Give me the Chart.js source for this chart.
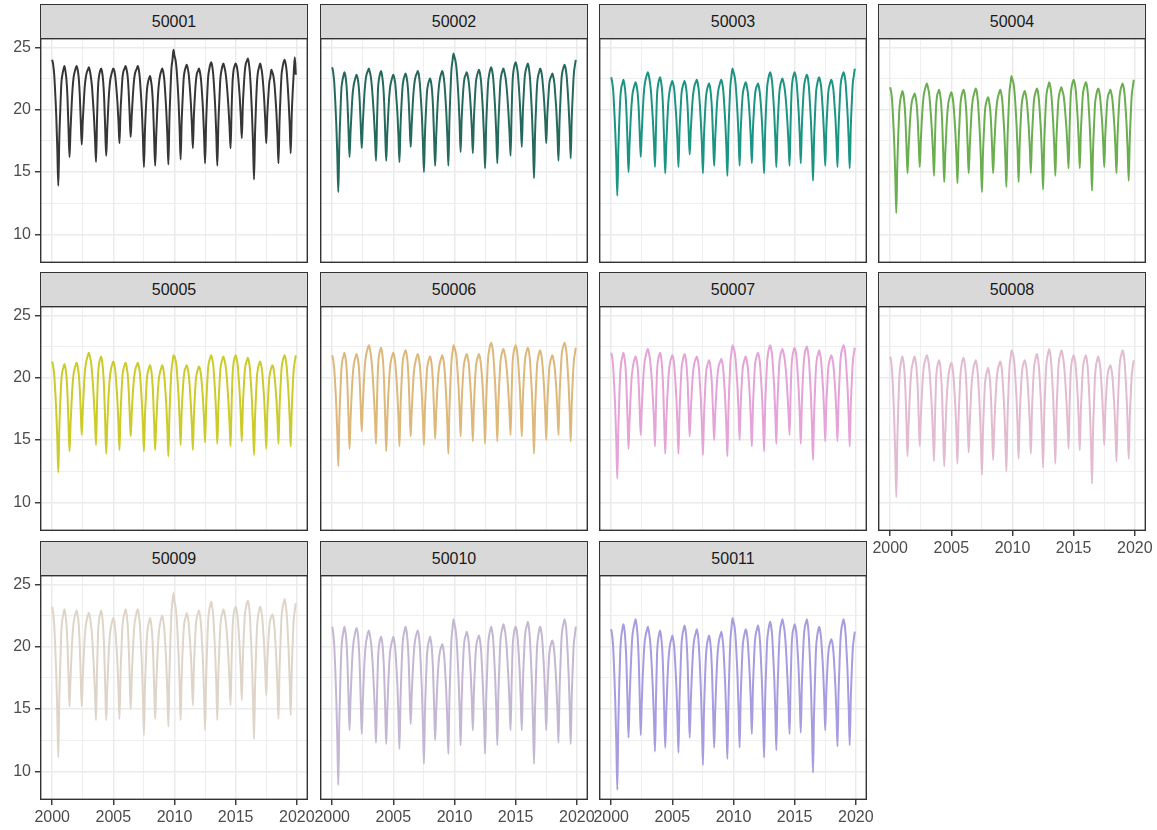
<!DOCTYPE html>
<html>
<head>
<meta charset="utf-8">
<title>Monthly series by station, 2000-2019</title>
<script src="https://cdn.jsdelivr.net/npm/chart.js@4.4.1/dist/chart.umd.min.js"></script>
<style>
  html, body { margin: 0; padding: 0; background: #ffffff; }
  body { position: relative; width: 1157px; height: 830px; overflow: hidden;
         font-family: "Liberation Sans", Arial, Helvetica, sans-serif; }
  .strip { position: absolute; box-sizing: border-box; background: #d9d9d9;
           border: 1px solid #333333; color: #1a1a1a; font-size: 16px;
           display: flex; align-items: center; justify-content: center; }
  canvas { position: absolute; }
</style>
</head>
<body>
<script>
// ---- categories ----
const YEARS = [2000, 2001, 2002, 2003, 2004, 2005, 2006, 2007, 2008, 2009,
               2010, 2011, 2012, 2013, 2014, 2015, 2016, 2017, 2018, 2019];
const MONTHS = ['Jan', 'Feb', 'Mar', 'Apr', 'May', 'Jun', 'Jul', 'Aug', 'Sep', 'Oct', 'Nov', 'Dec'];
const STATIONS = ['50001', '50002', '50003', '50004', '50005', '50006',
                  '50007', '50008', '50009', '50010', '50011'];

// ---- tick labels ----
const X_TICKS = [2000, 2005, 2010, 2015, 2020];
const X_MINOR = [2002.5, 2007.5, 2012.5, 2017.5];
const Y_TICKS = [10, 15, 20, 25];
const Y_MINOR = [12.5, 17.5, 22.5];

// ---- monthly values, one row per year (Jan..Dec) ----
const s50001 = [
  24.0,23.6,22.8,21.3,19.5,16.9,13.9,17.7,20.1,22.1,22.8,23.2,
  23.5,23.1,22.4,21.0,18.5,16.2,18.4,20.2,21.7,22.6,23.0,23.3,
  23.5,23.2,22.6,21.3,19.2,17.2,19.1,20.6,21.9,22.6,23.0,23.2,
  23.4,23.1,22.6,21.9,20.7,19.4,17.7,15.8,19.2,21.8,22.7,23.1,
  23.3,23.0,22.3,20.9,18.5,16.3,18.4,20.2,21.6,22.4,22.8,23.1,
  23.3,23.1,22.6,21.7,20.6,19.1,17.3,19.8,21.3,22.6,23.1,23.3,
  23.5,23.2,22.7,21.5,19.6,17.8,19.5,20.9,22.1,22.8,23.1,23.3,
  23.5,23.2,22.5,21.3,19.9,17.8,15.4,18.3,20.2,21.6,22.2,22.5,
  22.7,22.3,21.6,20.2,17.8,15.5,17.8,19.8,21.4,22.3,22.8,23.1,
  23.3,23.0,22.4,21.2,19.8,17.9,15.6,19.2,21.5,23.3,24.0,24.8,
  24.3,24.0,23.3,22.1,20.6,18.5,16.0,19.0,20.9,22.5,23.1,23.4,
  23.6,23.3,22.8,21.8,20.6,18.9,16.9,19.5,21.1,22.3,22.9,23.1,
  23.3,23.0,22.4,21.3,19.9,18.0,15.7,18.9,21.0,22.6,23.2,23.6,
  23.8,23.5,22.8,21.6,20.1,18.0,15.5,18.8,20.8,22.5,23.1,23.5,
  23.7,23.4,23.0,22.3,21.3,20.1,18.6,16.9,20.0,22.3,23.2,23.5,
  23.7,23.5,23.0,22.1,21.0,19.5,17.7,20.3,21.9,23.1,23.7,23.9,
  24.1,23.7,22.9,21.5,19.7,17.3,14.4,18.1,20.5,22.3,23.1,23.4,
  23.7,23.4,22.9,22.0,20.8,19.2,17.3,19.6,21.0,22.2,22.6,23.2,
  23.0,22.7,22.1,21.0,19.7,17.9,15.7,19.0,21.1,22.8,23.4,23.8,
  24.0,23.7,23.1,22.0,20.6,18.8,16.5,19.6,21.5,23.0,24.2,22.8
];
const s50002 = [
  23.4,23.0,22.2,20.7,18.9,16.4,13.4,17.2,19.6,21.6,22.3,22.7,
  23.0,22.7,22.0,20.6,18.4,16.2,18.2,19.8,21.2,21.9,22.3,22.6,
  22.8,22.5,21.9,20.7,18.8,16.9,18.8,20.4,21.7,22.5,22.9,23.1,
  23.3,23.0,22.6,21.8,20.7,19.4,17.8,15.9,19.1,21.7,22.5,22.9,
  23.1,22.7,22.0,20.6,18.2,15.9,18.0,19.7,21.1,21.9,22.3,22.6,
  22.8,22.5,22.0,20.9,19.7,17.9,15.8,18.6,20.4,21.8,22.4,22.7,
  22.9,22.6,22.0,20.8,18.9,17.0,18.8,20.4,21.6,22.3,22.7,22.9,
  23.1,22.8,22.1,20.9,19.5,17.4,15.0,18.0,19.9,21.4,22.0,22.3,
  22.5,22.2,21.5,20.1,17.7,15.5,17.8,19.7,21.2,22.1,22.6,22.9,
  23.1,22.8,22.2,21.1,19.7,17.8,15.5,19.1,21.4,23.2,23.9,24.5,
  24.2,23.9,23.3,22.2,20.8,18.9,16.6,19.2,20.8,22.0,22.6,22.8,
  23.0,22.7,22.2,21.3,20.1,18.5,16.5,19.2,20.9,22.2,22.7,23.0,
  23.2,22.9,22.3,21.1,19.7,17.7,15.3,18.5,20.6,22.2,22.8,23.2,
  23.4,23.1,22.5,21.3,19.9,18.0,15.7,18.7,20.6,22.2,22.8,23.1,
  23.3,23.0,22.6,21.9,20.9,19.6,18.1,16.3,19.7,22.3,23.2,23.6,
  23.8,23.5,23.0,22.0,20.7,19.0,17.0,19.7,21.4,22.7,23.2,23.5,
  23.7,23.3,22.6,21.2,19.6,17.3,14.5,18.0,20.2,22.0,22.7,23.0,
  23.3,23.1,22.6,21.7,20.6,19.1,17.3,19.5,20.9,22.1,22.5,22.7,
  22.9,22.6,22.1,21.0,19.8,18.0,15.9,19.0,20.9,22.5,23.1,23.4,
  23.6,23.3,22.7,21.6,20.2,18.4,16.1,19.3,21.2,22.8,23.5,24.0
];
const s50003 = [
  22.6,22.2,21.5,20.0,18.3,16.0,13.1,16.8,19.2,21.0,21.8,22.1,
  22.4,22.0,21.3,19.8,17.4,15.0,17.2,19.0,20.4,21.3,21.7,22.0,
  22.2,21.9,21.3,20.1,18.1,16.2,18.2,19.9,21.3,22.1,22.5,22.8,
  23.0,22.7,22.2,21.5,20.3,19.0,17.3,15.4,18.6,21.2,22.0,22.4,
  22.6,22.2,21.5,19.9,17.4,14.9,17.1,19.0,20.5,21.3,21.8,22.1,
  22.3,22.0,21.5,20.4,19.2,17.5,15.4,18.2,19.9,21.3,21.8,22.1,
  22.3,22.0,21.4,20.2,18.3,16.4,18.2,19.7,20.9,21.6,22.0,22.2,
  22.4,22.1,21.5,20.4,19.0,17.2,14.9,17.8,19.6,21.0,21.6,21.9,
  22.1,21.8,21.1,19.8,17.6,15.5,17.6,19.3,20.7,21.5,21.9,22.2,
  22.4,22.1,21.5,20.3,18.9,17.0,14.7,18.1,20.3,22.0,22.7,23.3,
  23.0,22.7,22.1,21.0,19.6,17.8,15.5,18.2,19.9,21.2,21.7,22.0,
  22.2,21.9,21.4,20.5,19.3,17.7,15.7,18.3,19.9,21.1,21.7,21.9,
  22.1,21.8,21.2,20.2,18.9,17.1,14.9,18.1,20.2,21.8,22.4,22.8,
  23.0,22.7,22.1,21.0,19.6,17.7,15.4,18.2,20.0,21.4,22.0,22.3,
  22.5,22.2,21.8,21.1,20.1,18.8,17.3,15.5,18.9,21.5,22.4,22.8,
  23.0,22.7,22.1,21.0,19.7,17.9,15.7,18.5,20.3,21.7,22.3,22.6,
  22.8,22.5,21.8,20.5,19.0,16.9,14.3,17.6,19.7,21.4,22.0,22.4,
  22.6,22.3,21.8,20.7,19.4,17.6,15.5,18.3,20.0,21.4,21.9,22.2,
  22.4,22.1,21.6,20.5,19.3,17.5,15.4,18.4,20.3,21.9,22.5,22.8,
  23.0,22.7,22.1,20.9,19.5,17.6,15.3,18.5,20.5,22.1,22.7,23.3
];
const s50004 = [
  21.8,21.4,20.6,19.1,17.3,14.7,11.7,15.6,18.1,20.0,20.8,21.2,
  21.5,21.2,20.5,19.2,17.0,14.9,16.8,18.4,19.7,20.5,20.9,21.1,
  21.3,21.0,20.4,19.2,17.3,15.4,17.4,19.1,20.4,21.2,21.6,21.9,
  22.1,21.8,21.4,20.6,19.5,18.2,16.6,14.7,17.8,20.2,21.1,21.4,
  21.6,21.2,20.5,19.0,16.6,14.2,16.4,18.2,19.6,20.5,20.9,21.2,
  21.4,21.1,20.5,19.4,18.1,16.3,14.1,17.1,19.0,20.5,21.1,21.4,
  21.6,21.3,20.6,19.3,17.0,14.9,16.9,18.6,20.0,20.8,21.2,21.5,
  21.7,21.4,20.7,19.5,18.0,15.9,13.4,16.4,18.3,19.9,20.5,20.8,
  21.0,20.7,20.1,18.9,16.9,14.9,16.9,18.6,19.9,20.7,21.1,21.4,
  21.6,21.3,20.7,19.5,18.1,16.1,13.8,17.4,19.6,21.4,22.1,22.7,
  22.4,22.1,21.4,20.2,18.7,16.7,14.2,17.1,19.0,20.4,21.0,21.3,
  21.5,21.2,20.7,19.7,18.5,16.9,14.9,17.6,19.3,20.7,21.2,21.5,
  21.7,21.4,20.7,19.5,18.1,16.0,13.6,17.0,19.2,20.9,21.6,21.9,
  22.2,21.9,21.3,20.2,18.8,17.0,14.7,17.5,19.3,20.7,21.3,21.6,
  21.8,21.5,21.2,20.5,19.5,18.4,16.9,15.3,18.5,21.0,21.8,22.2,
  22.4,22.1,21.6,20.5,19.2,17.4,15.3,18.1,19.8,21.2,21.7,22.0,
  22.2,21.9,21.2,19.9,18.3,16.1,13.5,16.8,18.8,20.5,21.1,21.5,
  21.7,21.5,20.9,20.0,18.9,17.3,15.4,17.9,19.4,20.7,21.2,21.4,
  21.6,21.3,20.8,19.8,18.6,16.9,14.9,17.8,19.6,21.0,21.6,21.9,
  22.1,21.8,21.2,20.0,18.6,16.6,14.3,17.5,19.6,21.2,21.8,22.4
];
const s50005 = [
  21.3,20.9,20.2,18.9,17.3,15.1,12.4,15.9,18.1,19.8,20.5,20.8,
  21.1,20.8,20.1,18.7,16.3,14.1,16.2,18.0,19.4,20.3,20.7,21.0,
  21.2,20.9,20.3,19.2,17.3,15.4,17.4,19.0,20.4,21.1,21.5,21.8,
  22.0,21.7,21.3,20.5,19.4,18.1,16.5,14.6,17.8,20.3,21.1,21.5,
  21.7,21.3,20.5,19.0,16.4,13.9,16.1,18.0,19.5,20.3,20.8,21.1,
  21.3,21.0,20.5,19.4,18.1,16.3,14.2,17.0,18.8,20.2,20.7,21.0,
  21.2,20.9,20.3,19.1,17.2,15.3,17.1,18.6,19.7,20.4,20.8,21.0,
  21.2,20.9,20.4,19.3,18.0,16.2,14.1,16.9,18.6,20.0,20.5,20.8,
  21.0,20.7,20.0,18.6,16.4,14.2,16.2,17.9,19.3,20.1,20.5,20.8,
  21.0,20.7,20.1,19.0,17.7,15.9,13.7,16.9,19.0,20.6,21.2,21.8,
  21.7,21.4,20.9,19.8,18.5,16.7,14.6,17.2,18.8,20.0,20.6,20.8,
  21.0,20.7,20.2,19.2,17.9,16.2,14.2,16.9,18.6,19.9,20.4,20.7,
  20.9,20.7,20.2,19.3,18.2,16.6,14.8,17.6,19.4,20.8,21.3,21.6,
  21.8,21.5,21.0,19.9,18.6,16.8,14.7,17.5,19.3,20.7,21.2,21.5,
  21.7,21.4,21.0,20.3,19.2,17.9,16.3,14.5,17.8,20.3,21.2,21.6,
  21.8,21.5,21.0,19.9,18.7,17.0,14.9,17.6,19.3,20.6,21.1,21.4,
  21.6,21.3,20.7,19.5,18.1,16.1,13.8,16.8,18.7,20.2,20.8,21.1,
  21.3,21.0,20.5,19.4,18.2,16.4,14.3,17.0,18.7,20.0,20.5,20.8,
  21.0,20.8,20.2,19.3,18.2,16.6,14.7,17.5,19.3,20.7,21.3,21.6,
  21.8,21.5,20.9,19.8,18.5,16.7,14.5,17.4,19.3,20.7,21.3,21.8
];
const s50006 = [
  21.8,21.4,20.7,19.4,17.8,15.6,12.9,16.5,18.8,20.6,21.4,21.7,
  22.0,21.6,20.9,19.3,16.8,14.3,16.6,18.5,20.0,20.9,21.4,21.7,
  21.9,21.6,21.0,19.7,17.7,15.7,17.8,19.5,20.9,21.7,22.1,22.4,
  22.6,22.3,21.8,21.0,19.8,18.4,16.7,14.7,18.2,20.9,21.8,22.2,
  22.4,22.0,21.2,19.5,16.8,14.1,16.5,18.5,20.0,21.0,21.5,21.8,
  22.0,21.7,21.1,20.0,18.6,16.8,14.5,17.6,19.5,21.1,21.7,22.0,
  22.2,21.9,21.2,19.8,17.5,15.3,17.3,18.9,20.3,21.0,21.4,21.7,
  21.9,21.6,21.0,19.9,18.6,16.8,14.6,17.4,19.2,20.6,21.2,21.5,
  21.7,21.4,20.7,19.4,17.2,15.1,17.1,18.8,20.1,20.9,21.3,21.6,
  21.8,21.5,20.9,19.7,18.3,16.3,13.9,17.4,19.6,21.3,22.0,22.6,
  22.4,22.1,21.6,20.5,19.2,17.4,15.3,17.9,19.6,20.9,21.4,21.7,
  21.9,21.6,21.1,20.0,18.8,17.0,14.9,17.7,19.5,20.9,21.4,21.7,
  21.9,21.6,21.0,20.0,18.7,16.9,14.7,17.9,20.0,21.6,22.2,22.6,
  22.8,22.5,21.9,20.7,19.3,17.3,14.9,17.9,19.7,21.2,21.8,22.1,
  22.3,22.0,21.6,20.9,19.9,18.6,17.1,15.4,18.6,21.2,22.0,22.4,
  22.6,22.3,21.7,20.6,19.3,17.5,15.3,18.1,19.9,21.3,21.9,22.2,
  22.4,22.1,21.4,20.1,18.6,16.5,13.9,17.2,19.3,21.0,21.6,22.0,
  22.2,21.9,21.3,20.3,19.0,17.2,15.0,17.7,19.4,20.8,21.3,21.6,
  21.8,21.5,21.0,20.1,18.9,17.3,15.4,18.4,20.2,21.7,22.3,22.6,
  22.8,22.5,21.9,20.7,19.3,17.3,14.9,17.9,19.8,21.3,21.9,22.4
];
const s50007 = [
  22.0,21.6,20.8,19.3,17.5,14.9,11.9,15.9,18.5,20.5,21.3,21.7,
  22.0,21.6,20.9,19.3,16.8,14.3,16.5,18.4,19.9,20.7,21.2,21.5,
  21.7,21.4,20.8,19.5,17.4,15.4,17.5,19.2,20.6,21.4,21.8,22.1,
  22.3,22.0,21.5,20.7,19.6,18.2,16.5,14.5,17.9,20.5,21.4,21.8,
  22.0,21.6,20.8,19.2,16.5,13.9,16.3,18.3,19.8,20.8,21.3,21.6,
  21.8,21.5,20.9,19.7,18.3,16.3,13.9,17.1,19.1,20.7,21.3,21.7,
  21.9,21.6,20.9,19.6,17.4,15.3,17.2,18.8,20.1,20.9,21.3,21.5,
  21.7,21.4,20.8,19.6,18.2,16.2,13.8,16.8,18.7,20.3,20.9,21.2,
  21.4,21.1,20.4,19.2,17.1,15.0,17.0,18.6,19.9,20.7,21.1,21.3,
  21.5,21.2,20.6,19.4,18.0,16.0,13.7,17.3,19.5,21.3,22.0,22.6,
  22.4,22.1,21.5,20.4,19.1,17.2,15.0,17.7,19.4,20.7,21.2,21.5,
  21.7,21.4,20.8,19.8,18.5,16.7,14.5,17.5,19.4,20.9,21.5,21.8,
  22.0,21.7,21.1,19.9,18.5,16.5,14.1,17.5,19.6,21.3,22.0,22.4,
  22.6,22.3,21.7,20.5,19.1,17.1,14.7,17.7,19.6,21.2,21.8,22.1,
  22.3,22.0,21.6,20.9,19.9,18.6,17.1,15.4,18.6,21.0,21.8,22.2,
  22.4,22.1,21.5,20.3,18.9,17.0,14.7,17.8,19.8,21.3,22.0,22.3,
  22.5,22.1,21.4,20.0,18.4,16.1,13.4,16.9,19.1,20.9,21.6,21.9,
  22.2,21.9,21.3,20.2,18.9,17.1,14.9,17.7,19.4,20.8,21.3,21.6,
  21.8,21.5,21.0,19.9,18.7,17.0,14.9,18.0,19.9,21.5,22.1,22.4,
  22.6,22.3,21.6,20.4,19.0,16.9,14.5,17.7,19.6,21.2,21.9,22.4
];
const s50008 = [
  21.7,21.3,20.3,18.7,16.6,13.8,10.4,14.9,17.8,20.0,20.9,21.4,
  21.7,21.3,20.5,18.9,16.3,13.7,16.1,18.1,19.7,20.7,21.1,21.5,
  21.7,21.3,20.6,19.2,16.8,14.5,16.7,18.5,20.0,20.9,21.3,21.6,
  21.8,21.5,21.0,20.1,18.8,17.3,15.4,13.3,17.0,19.8,20.8,21.2,
  21.4,21.0,20.1,18.4,15.6,12.9,15.4,17.5,19.1,20.1,20.6,21.0,
  21.2,20.9,20.2,19.0,17.6,15.5,13.1,16.5,18.6,20.3,21.0,21.4,
  21.6,21.2,20.5,18.9,16.4,14.0,16.2,18.1,19.6,20.4,20.9,21.2,
  21.4,21.0,20.3,18.9,17.3,15.0,12.2,15.6,17.8,19.5,20.2,20.5,
  20.8,20.4,19.7,18.2,15.8,13.4,15.8,17.8,19.3,20.3,20.8,21.1,
  21.3,21.0,20.2,18.9,17.3,15.1,12.5,16.4,18.8,20.8,21.5,22.2,
  22.0,21.7,21.0,19.7,18.2,16.1,13.5,16.7,18.6,20.2,20.9,21.2,
  21.4,21.1,20.5,19.4,18.0,16.2,13.9,17.1,19.1,20.7,21.3,21.7,
  21.9,21.5,20.8,19.4,17.8,15.5,12.8,16.6,19.0,20.9,21.6,22.0,
  22.3,21.9,21.2,19.8,18.2,15.9,13.1,16.7,19.0,20.8,21.6,21.9,
  22.2,21.9,21.4,20.6,19.4,18.0,16.3,14.3,17.7,20.3,21.2,21.6,
  21.8,21.5,20.9,19.8,18.4,16.5,14.2,17.2,19.1,20.7,21.3,21.6,
  21.8,21.4,20.6,19.0,17.2,14.6,11.5,15.6,18.1,20.2,21.0,21.4,
  21.7,21.4,20.9,19.8,18.5,16.7,14.6,17.2,18.8,20.0,20.6,20.8,
  21.0,20.7,20.1,18.9,17.5,15.6,13.3,16.9,19.1,20.9,21.6,21.9,
  22.2,21.9,21.2,19.9,18.3,16.1,13.5,16.7,18.6,20.2,20.9,21.4
];
const s50009 = [
  23.2,22.7,21.8,19.9,17.8,14.7,11.1,15.9,18.8,21.2,22.2,22.6,
  23.0,22.6,21.8,20.3,17.7,15.2,17.5,19.4,21.0,21.9,22.4,22.7,
  22.9,22.5,21.8,20.2,17.7,15.2,17.5,19.3,20.8,21.7,22.2,22.5,
  22.7,22.4,21.8,21.0,19.7,18.1,16.3,14.1,18.1,21.1,22.2,22.6,
  22.9,22.5,21.6,19.8,16.9,14.1,16.6,18.6,20.3,21.2,21.7,22.1,
  22.3,22.0,21.3,20.1,18.7,16.6,14.2,17.7,19.9,21.7,22.4,22.7,
  23.0,22.6,21.8,20.2,17.6,15.0,17.4,19.4,21.0,22.0,22.4,22.8,
  23.0,22.6,21.8,20.3,18.5,15.9,12.9,16.7,19.0,20.9,21.6,22.0,
  22.3,21.9,21.1,19.5,16.8,14.2,16.7,18.8,20.4,21.4,21.9,22.3,
  22.5,22.1,21.4,20.1,18.5,16.3,13.6,17.9,20.6,22.7,23.6,24.3,
  23.6,23.2,22.5,21.0,19.3,17.0,14.1,17.5,19.7,21.4,22.1,22.4,
  22.7,22.4,21.8,20.7,19.4,17.5,15.3,18.3,20.2,21.8,22.4,22.7,
  22.9,22.5,21.8,20.3,18.6,16.2,13.3,17.4,20.0,22.1,22.9,23.3,
  23.6,23.2,22.5,21.0,19.3,17.0,14.1,17.7,19.9,21.7,22.4,22.7,
  23.0,22.7,22.2,21.5,20.3,18.9,17.2,15.3,18.9,21.6,22.6,23.0,
  23.2,22.9,22.3,21.2,19.8,18.0,15.7,18.9,20.9,22.5,23.1,23.5,
  23.7,23.3,22.4,20.7,18.7,15.9,12.6,16.8,19.5,21.6,22.5,22.9,
  23.2,22.9,22.4,21.3,20.0,18.2,16.1,18.7,20.3,21.6,22.2,22.4,
  22.6,22.3,21.6,20.3,18.8,16.7,14.2,18.0,20.4,22.4,23.1,23.5,
  23.8,23.4,22.7,21.3,19.6,17.3,14.5,18.1,20.4,22.2,22.9,23.5
];
const s50010 = [
  21.6,21.1,20.1,18.2,15.9,12.7,8.9,14.0,17.2,19.7,20.7,21.2,
  21.6,21.2,20.4,18.7,16.0,13.3,15.8,17.8,19.5,20.4,20.9,21.3,
  21.5,21.1,20.2,18.5,15.7,13.0,15.5,17.6,19.2,20.2,20.7,21.1,
  21.3,20.9,20.4,19.5,18.2,16.5,14.6,12.3,16.1,19.1,20.1,20.6,
  20.8,20.4,19.5,17.8,15.0,12.2,14.8,16.9,18.7,19.7,20.2,20.5,
  20.8,20.4,19.7,18.4,16.8,14.5,11.8,15.7,18.2,20.1,20.9,21.3,
  21.6,21.2,20.4,18.9,16.3,13.8,16.1,17.9,19.4,20.3,20.8,21.1,
  21.3,20.9,20.0,18.4,16.5,13.8,10.6,14.7,17.2,19.3,20.1,20.5,
  20.8,20.4,19.6,17.9,15.2,12.5,14.8,16.7,18.3,19.2,19.7,20.0,
  20.2,19.9,19.1,17.8,16.2,14.0,11.4,15.7,18.4,20.6,21.4,22.2,
  21.8,21.4,20.6,19.2,17.4,15.0,12.1,15.7,18.0,19.8,20.6,20.9,
  21.2,20.9,20.3,19.1,17.7,15.7,13.3,16.3,18.2,19.8,20.4,20.7,
  20.9,20.5,19.8,18.3,16.6,14.3,11.4,15.5,18.0,20.1,20.9,21.3,
  21.6,21.2,20.5,19.0,17.3,15.0,12.1,16.0,18.4,20.4,21.1,21.5,
  21.8,21.5,21.0,20.1,18.8,17.3,15.4,13.3,17.0,19.9,20.9,21.4,
  21.6,21.3,20.6,19.4,17.9,15.8,13.3,16.8,19.0,20.7,21.4,21.7,
  22.0,21.5,20.6,18.9,16.9,14.0,10.6,15.0,17.8,20.0,20.8,21.3,
  21.6,21.3,20.6,19.4,17.9,15.8,13.3,16.2,18.0,19.4,20.0,20.3,
  20.5,20.2,19.5,18.3,16.8,14.8,12.3,16.3,18.7,20.7,21.5,21.9,
  22.2,21.8,21.0,19.5,17.7,15.2,12.2,16.0,18.3,20.2,20.9,21.6
];
const s50011 = [
  21.4,20.9,19.9,17.9,15.6,12.4,8.5,13.8,17.2,19.8,20.9,21.4,
  21.8,21.4,20.4,18.6,15.6,12.7,15.6,17.9,19.8,21.0,21.5,21.9,
  22.2,21.7,20.8,19.0,15.9,12.9,15.5,17.7,19.4,20.5,21.0,21.3,
  21.6,21.2,20.6,19.6,18.1,16.3,14.1,11.6,16.0,19.4,20.5,21.0,
  21.3,20.8,19.9,18.0,14.9,11.9,14.6,16.9,18.7,19.7,20.3,20.6,
  20.9,20.5,19.8,18.4,16.7,14.3,11.5,15.6,18.1,20.2,21.0,21.4,
  21.7,21.3,20.4,18.6,15.6,12.7,15.3,17.5,19.2,20.3,20.8,21.1,
  21.4,21.0,20.1,18.5,16.5,13.8,10.5,14.7,17.3,19.3,20.2,20.6,
  20.9,20.5,19.6,17.8,14.8,11.9,14.7,17.0,18.9,20.0,20.6,20.9,
  21.2,20.8,20.0,18.5,16.6,14.1,11.0,15.5,18.4,20.6,21.5,22.3,
  22.0,21.6,20.8,19.3,17.5,14.9,11.9,15.7,18.1,20.0,20.7,21.1,
  21.4,21.1,20.4,19.1,17.6,15.5,13.0,16.5,18.7,20.4,21.1,21.4,
  21.7,21.3,20.4,18.8,16.9,14.3,11.1,15.5,18.2,20.4,21.2,21.7,
  22.0,21.6,20.8,19.2,17.4,14.8,11.7,15.9,18.5,20.6,21.5,21.9,
  22.2,21.8,21.3,20.4,19.0,17.3,15.3,13.0,17.0,20.0,21.1,21.5,
  21.8,21.5,20.8,19.5,17.9,15.7,13.1,16.7,19.0,20.8,21.6,21.9,
  22.2,21.7,20.7,18.9,16.7,13.6,9.9,14.6,17.5,19.9,20.8,21.3,
  21.6,21.3,20.6,19.4,17.9,15.8,13.3,16.2,18.1,19.5,20.1,20.4,
  20.6,20.3,19.6,18.3,16.7,14.6,12.0,16.1,18.6,20.7,21.5,21.9,
  22.2,21.8,21.0,19.5,17.7,15.1,12.1,15.7,18.0,19.8,20.6,21.2
];
const SERIES = [s50001, s50002, s50003, s50004, s50005, s50006,
                s50007, s50008, s50009, s50010, s50011];

// ---- styling ----
const LINE_COLORS = ['#363636', '#25695d', '#1b9484', '#6aae4f', '#cccb2a', '#deb77a',
                     '#e5a3d8', '#e2bbd0', '#ded5c8', '#c4b7d4', '#a89ce0'];
const GRID = '#ebebeb';
const INK = '#333333';
const TICK_TEXT = '#4d4d4d';

// facet grid geometry (4 columns)
const NCOL = 4;
const COL_LEFT = [40, 320, 599, 878];
const ROW_TOP = [4, 272, 541];
const STRIP_H = 34, PLOT_W = 268, PLOT_H = 225;
const X_LIMITS = [1999.004, 2020.913];
const Y_LIMITS = [7.7, 25.75];

Chart.defaults.font.family = '"Liberation Sans", Arial, Helvetica, sans-serif';
Chart.defaults.font.size = 16;
Chart.defaults.color = TICK_TEXT;

// decimal-year position of every monthly value
const TIMES = [];
YEARS.forEach(y => MONTHS.forEach((m, k) => TIMES.push(y + k / 12)));

const panelBorder = {
  id: 'panelBorder',
  afterDraw(chart) {
    const a = chart.chartArea, ctx = chart.ctx;
    ctx.save();
    ctx.strokeStyle = INK;
    ctx.lineWidth = 1.4;
    ctx.strokeRect(a.left + 0.7, a.top + 0.7, a.right - a.left - 1.4, a.bottom - a.top - 1.4);
    ctx.restore();
  }
};

function fixedTicks(list) {
  return scale => { scale.ticks = list.map(v => ({ value: v })); };
}

function makePanel(i) {
  const col = i % NCOL, row = Math.floor(i / NCOL);
  const plotLeft = COL_LEFT[col];
  const stripTop = ROW_TOP[row];
  const plotTop = stripTop + STRIP_H;
  const showY = col === 0;
  const showX = i + NCOL >= STATIONS.length;
  const yW = showY ? 40 : 16;
  const padR = 16;
  const xH = showX ? 32 : 0;

  // facet strip
  const strip = document.createElement('div');
  strip.className = 'strip';
  strip.style.left = plotLeft + 'px';
  strip.style.top = stripTop + 'px';
  strip.style.width = PLOT_W + 'px';
  strip.style.height = (STRIP_H + 1) + 'px';
  strip.textContent = STATIONS[i];
  document.body.appendChild(strip);

  const canvas = document.createElement('canvas');
  const W = yW + PLOT_W + padR, H = PLOT_H + xH;
  canvas.width = W; canvas.height = H;
  canvas.style.width = W + 'px'; canvas.style.height = H + 'px';
  canvas.style.left = (plotLeft - yW) + 'px';
  canvas.style.top = plotTop + 'px';
  document.body.appendChild(canvas);

  const values = SERIES[i];
  const points = TIMES.map((t, j) => ({ x: t, y: values[j] }));

  new Chart(canvas, {
    type: 'line',
    data: {
      datasets: [{
        label: STATIONS[i],
        data: points,
        borderColor: LINE_COLORS[i],
        borderWidth: 2,
        pointRadius: 0,
        cubicInterpolationMode: 'monotone',
        fill: false,
        xAxisID: 'x',
        yAxisID: 'y'
      }]
    },
    options: {
      responsive: false,
      animation: false,
      devicePixelRatio: 1,
      parsing: false,
      events: [],
      layout: { padding: { left: 0, top: 0, right: padR, bottom: 0 } },
      plugins: { legend: { display: false }, tooltip: { enabled: false } },
      scales: {
        x: {
          type: 'linear', position: 'bottom',
          min: X_LIMITS[0], max: X_LIMITS[1],
          afterBuildTicks: fixedTicks(X_TICKS),
          afterFit: s => { s.height = xH; s.paddingLeft = 0; s.paddingRight = 0; },
          border: { display: false },
          grid: { color: GRID, lineWidth: 1.5, drawTicks: showX, tickLength: 5,
                  tickColor: INK, tickWidth: 1.4 },
          ticks: { display: showX, autoSkip: false, maxRotation: 0, padding: 3,
                   color: TICK_TEXT, callback: v => String(v) }
        },
        xMinor: {
          type: 'linear', position: 'bottom',
          min: X_LIMITS[0], max: X_LIMITS[1],
          afterBuildTicks: fixedTicks(X_MINOR),
          afterFit: s => { s.height = 0; s.paddingLeft = 0; s.paddingRight = 0; },
          border: { display: false },
          grid: { color: GRID, lineWidth: 0.8, drawTicks: false },
          ticks: { display: false }
        },
        y: {
          type: 'linear', position: 'left',
          min: Y_LIMITS[0], max: Y_LIMITS[1],
          afterBuildTicks: fixedTicks(Y_TICKS),
          afterFit: s => { s.width = yW; s.paddingTop = 0; s.paddingBottom = 0; },
          border: { display: false },
          grid: { color: GRID, lineWidth: 1.5, drawTicks: showY, tickLength: 5,
                  tickColor: INK, tickWidth: 1.4 },
          ticks: { display: showY, autoSkip: false, padding: 4,
                   color: TICK_TEXT, callback: v => String(v) }
        },
        yMinor: {
          type: 'linear', position: 'left',
          min: Y_LIMITS[0], max: Y_LIMITS[1],
          afterBuildTicks: fixedTicks(Y_MINOR),
          afterFit: s => { s.width = 0; s.paddingTop = 0; s.paddingBottom = 0; },
          border: { display: false },
          grid: { color: GRID, lineWidth: 0.8, drawTicks: false },
          ticks: { display: false }
        }
      }
    },
    plugins: [panelBorder]
  });
}

STATIONS.forEach((s, i) => makePanel(i));
</script>
</body>
</html>
